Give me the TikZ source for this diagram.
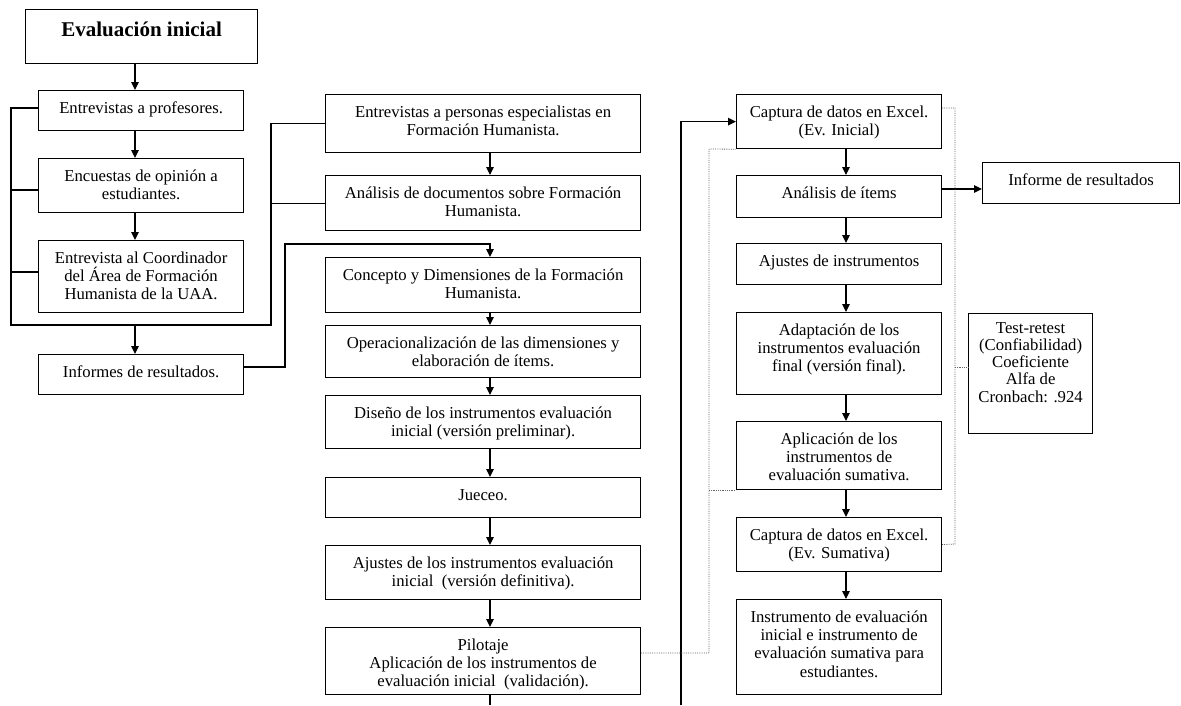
\documentclass[tikz,border=0pt]{standalone}
\usepackage{fontspec}
\setmainfont{Liberation Serif}
\usetikzlibrary{arrows.meta,calc}
\tikzset{
  box/.style={draw=black, line width=1.2pt, rectangle, inner sep=0pt, fill=white},
  txt/.style={inner sep=0pt, align=center, font=\fontsize{16.7}{18.3}\selectfont},
  ln/.style={draw=black, line width=1.2pt},
  arr/.style={ln, -{Triangle[length=8pt,width=7.5pt]}},
  dot/.style={draw=black!60, line width=0.8pt, densely dotted}
}
\newcommand\bx[7][-8]{%
  \node[box, minimum width={(#5-#3)*1pt}, minimum height={(#6-#4)*1pt}, anchor=north west] (#2) at (#3,#4) {};
  \node[txt, anchor=north] (#2-t) at ([yshift=#1pt]#2.north) {\rule{0pt}{15pt}#7};
}
\begin{document}
\begin{tikzpicture}[x=1pt,y=-1pt]
\useasboundingbox (0,0) rectangle (1181,705);
\fill[white] (0,0) rectangle (1181,705);
\coordinate (ax) at (135,0);
\coordinate (mx) at (490,0);
\coordinate (rx) at (846,0);
% title
\node[box, minimum width=232pt, minimum height=54pt, anchor=north west] (ev) at (25,9) {};
\node[inner sep=0pt, anchor=north, font=\fontsize{21}{24}\selectfont\bfseries] (ev-t) at ([yshift=-8.5pt]ev.north) {\rule{0pt}{19pt}Evaluación inicial};
% left column
\bx{b1}{38}{90}{243}{130}{Entrevistas a profesores.}
\bx{b2}{38}{158}{243}{212}{Encuestas de opinión a\\estudiantes.}
\bx{b3}{38}{240}{243}{312}{Entrevista al Coordinador\\del Área de Formación\\Humanista de la UAA.}
\bx{b4}{38}{354}{243}{394}{Informes de resultados.}
% middle column
\bx{m1}{325}{94}{640}{152}{Entrevistas a personas especialistas en\\Formación Humanista.}
\bx{m2}{325}{175}{640}{230}{Análisis de documentos sobre Formación\\Humanista.}
\bx{m3}{325}{257}{640}{312}{Concepto y Dimensiones de la Formación\\Humanista.}
\bx{m4}{325}{325}{640}{377}{Operacionalización de las dimensiones y\\elaboración de ítems.}
\bx{m5}{325}{395}{640}{448}{Diseño de los instrumentos evaluación\\inicial (versión preliminar).}
\bx{m6}{325}{477}{640}{517}{Jueceo.}
\bx{m7}{325}{545}{640}{599}{Ajustes de los instrumentos evaluación\\inicial\ \ (versión definitiva).}
\bx{m8}{325}{627}{640}{694}{Pilotaje\\Aplicación de los instrumentos de\\evaluación inicial\ \ (validación).}
% right column
\bx{r1}{736}{94}{941}{148}{Captura de datos en Excel.\\(Ev. Inicial)}
\bx{r2}{736}{175}{941}{217}{Análisis de ítems}
\bx{r3}{736}{243}{941}{284}{Ajustes de instrumentos}
\bx{r4}{736}{312}{941}{394}{Adaptación de los\\instrumentos evaluación\\final (versión final).}
\bx{r5}{736}{421}{941}{489}{Aplicación de los\\instrumentos de\\evaluación sumativa.}
\bx{r6}{736}{517}{941}{571}{Captura de datos en Excel.\\(Ev. Sumativa)}
\bx{r7}{736}{599}{941}{694}{Instrumento de evaluación\\inicial e instrumento de\\evaluación sumativa para\\estudiantes.}
\bx{inf}{982}{162}{1179}{203}{Informe de resultados}
\node[box, minimum width=124pt, minimum height=120pt, anchor=north west] (tr) at (968,313) {};
\node[inner sep=0pt, align=center, anchor=north, font=\fontsize{16.7}{17.2}\selectfont] (tr-t) at ([yshift=-5pt]tr.north) {\rule{0pt}{15pt}Test-retest\\(Confiabilidad)\\Coeficiente\\Alfa de\\Cronbach: .924};
% coordinates
\coordinate (jL) at (11,325);
\coordinate (jR) at (271,325);
\coordinate (jM) at (285,244);
\coordinate (botM) at (490,705);
\coordinate (botR) at (681,705);
\coordinate (dL) at (709,149);
\coordinate (dR) at (955,544);
% left arrows
\draw[arr] (ev.south -| ax) -- (b1.north -| ax);
\draw[arr] (b1.south -| ax) -- (b2.north -| ax);
\draw[arr] (b2.south -| ax) -- (b3.north -| ax);
% bracket
\draw[ln] (b1.west |- 0,108) -| (jL) -- (jR) |- (m1.west);
\draw[ln] (b2.west |- 0,190) -- (jL |- 0,190);
\draw[ln] (b3.west |- 0,272) -- (jL |- 0,272);
\draw[ln] (jR |- m2.west) -- (m2.west);
\draw[arr] (jL -| ax) -- (b4.north -| ax);
% informes to concepto
\draw[arr] (b4.east |- 0,367) -| (jM) -| (m3.north -| mx);
% middle arrows
\draw[arr] (m1.south -| mx) -- (m2.north -| mx);
\draw[arr] (m3.south -| mx) -- (m4.north -| mx);
\draw[arr] (m4.south -| mx) -- (m5.north -| mx);
\draw[arr] (m5.south -| mx) -- (m6.north -| mx);
\draw[arr] (m6.south -| mx) -- (m7.north -| mx);
\draw[arr] (m7.south -| mx) -- (m8.north -| mx);
\draw[ln] (m8.south -| mx) -- (botM);
% long return line
\draw[arr] (botR) |- (r1.west);
% right arrows
\draw[arr] (r1.south -| rx) -- (r2.north -| rx);
\draw[arr] (r2.south -| rx) -- (r3.north -| rx);
\draw[arr] (r3.south -| rx) -- (r4.north -| rx);
\draw[arr] (r4.south -| rx) -- (r5.north -| rx);
\draw[arr] (r5.south -| rx) -- (r6.north -| rx);
\draw[arr] (r6.south -| rx) -- (r7.north -| rx);
\draw[arr] (r2.east |- 0,189) -- (inf.west |- 0,189);
% dotted connectors
\draw[dot] (m8.east |- 0,653) -| (dL) -- (r1.south west);
\draw[dot] (dL |- r5.south west) -- (r5.south west);
\draw[dot] (r1.east |- 0,108) -| (dR) -- (r6.east);
\draw[dot] (dR |- 0,367) -- (tr.west |- 0,367);
\end{tikzpicture}
\end{document}
